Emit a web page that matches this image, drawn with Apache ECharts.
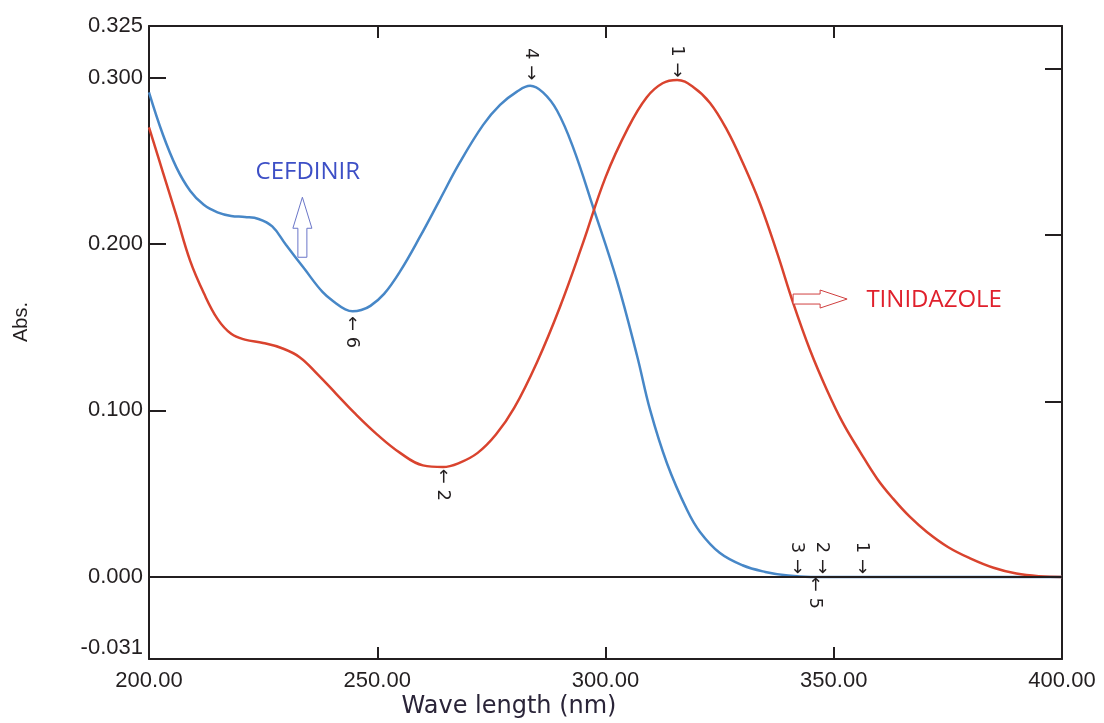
<!DOCTYPE html>
<html>
<head>
<meta charset="utf-8">
<script src="https://cdn.jsdelivr.net/npm/echarts@6/dist/echarts.min.js"></script>
<style>
  html, body { margin: 0; padding: 0; background: #fff; }
  #chart { width: 1104px; height: 723px; }
</style>
</head>
<body>
<div id="chart"></div>
<script>
// spectra: wavelength (nm) and absorbance
const cefdinirWave = [200, 203, 206, 209, 212, 215, 218, 221, 224, 227, 230, 234, 238, 241, 243, 244.6, 246.5, 248.5, 251.5, 255, 259.4, 263.7, 268, 273.2, 276.9, 280.6, 283.5, 286.3, 289.4, 292.9, 297.3, 302.5, 306.9, 309.8, 313.5, 317.9, 320.7, 325, 330, 335, 340, 345, 350, 360, 380, 400];
const cefdinirAbs = [0.291, 0.266, 0.246, 0.232, 0.2235, 0.219, 0.2168, 0.2162, 0.2150, 0.2105, 0.1995, 0.1852, 0.1712, 0.1642, 0.1607, 0.1595, 0.1603, 0.1628, 0.170, 0.1835, 0.2045, 0.2265, 0.2485, 0.2715, 0.2835, 0.2915, 0.295, 0.291, 0.280, 0.258, 0.222, 0.178, 0.133, 0.100, 0.068, 0.040, 0.027, 0.0145, 0.007, 0.003, 0.0008, 0, 0, 0, 0, 0];

const tinidazoleWave = [200, 203, 206, 209, 212, 215, 218, 221, 225, 229, 233, 237, 241, 245, 250, 255, 260, 264.4, 268, 272, 276, 280, 285, 290, 295, 300, 305, 309, 312.5, 315.7, 319.2, 322.9, 326.6, 330.1, 333.8, 337.6, 341.1, 344.8, 348.5, 352, 355.8, 359.5, 363, 366.7, 370.4, 375, 380, 385, 390, 395, 400];
const tinidazoleAbs = [0.270, 0.2435, 0.217, 0.190, 0.1705, 0.155, 0.146, 0.1425, 0.1405, 0.1375, 0.132, 0.1215, 0.110, 0.0985, 0.0855, 0.0745, 0.067, 0.066, 0.0685, 0.0745, 0.0855, 0.1015, 0.129, 0.162, 0.200, 0.240, 0.270, 0.288, 0.2965, 0.2985, 0.2943, 0.2847, 0.2685, 0.2486, 0.2246, 0.1946, 0.1646, 0.1363, 0.1123, 0.0925, 0.075, 0.059, 0.047, 0.036, 0.027, 0.018, 0.011, 0.0055, 0.002, 0.0004, 0];

// y axis: the end labels sit at the frame, not at their own values
const yMin = -0.0493;
const yMax = 0.3309;
const yTickValues = [0.1, 0.2, 0.3];
const yLabelValues = [-0.0429, 0, 0.1, 0.2, 0.3, yMax];
const yLabelText = ['-0.031', '0.000', '0.100', '0.200', '0.300', '0.325'];
const rightShift = 0.0054; // right-hand ticks sit a little higher

// peak / valley markers: wavelength, abs (centre of the mark), text
const markWave = [283.5, 315.7, 244.5, 264.4, 341.9, 347.4, 356.2, 345.9];
const markAbs = [0.308, 0.3096, 0.147, 0.0553, 0.0114, 0.0114, 0.0114, -0.0096];
const markText = ['4 \u2192', '1 \u2192', '\u2190 6', '\u2190 2', '3 \u2192', '2 \u2192', '1 \u2192', '\u2190 5'];

const blue = '#4787c7';
const red = '#d9432e';
const ink = '#231f20';
const font = 'Liberation Sans, Arial, sans-serif';

const chart = echarts.init(document.getElementById('chart'));

const xBase = {
  type: 'value',
  min: 200,
  max: 400,
  interval: 50,
  axisLine: { onZero: false, lineStyle: { color: ink, width: 2 } },
  axisTick: { inside: true, length: 12, lineStyle: { color: ink, width: 2 } },
  splitLine: { show: false }
};

const option = {
  animation: false,
  backgroundColor: '#fff',
  grid: { left: 149, right: 42, top: 26, bottom: 64 },
  xAxis: [
    Object.assign({}, xBase, {
      position: 'bottom',
      axisLabel: {
        margin: 11, fontFamily: font, fontSize: 22, color: ink,
        showMinLabel: true, showMaxLabel: true,
        formatter: (v) => v.toFixed(2)
      }
    }),
    Object.assign({}, xBase, {
      position: 'top',
      axisLabel: { show: false }
    })
  ],
  yAxis: [
    {
      type: 'value',
      min: yMin,
      max: yMax,
      position: 'left',
      axisLine: { show: true, onZero: false, lineStyle: { color: ink, width: 2 } },
      axisTick: {
        show: true, inside: true, length: 17,
        customValues: yTickValues,
        lineStyle: { color: ink, width: 2 }
      },
      axisLabel: {
        margin: 6, fontFamily: font, fontSize: 22, color: ink,
        customValues: yLabelValues,
        formatter: (v) => {
          const i = yLabelValues.findIndex((t) => Math.abs(t - v) < 1e-6);
          return i >= 0 ? yLabelText[i] : '';
        }
      },
      splitLine: { show: false }
    },
    {
      type: 'value',
      min: yMin - rightShift,
      max: yMax - rightShift,
      position: 'right',
      axisLine: { show: true, onZero: false, lineStyle: { color: ink, width: 2 } },
      axisTick: {
        show: true, inside: true, length: 17,
        customValues: yTickValues,
        lineStyle: { color: ink, width: 2 }
      },
      axisLabel: { show: false },
      splitLine: { show: false }
    }
  ],
  series: [
    {
      name: 'CEFDINIR',
      type: 'line',
      smooth: 0.4,
      showSymbol: false,
      data: cefdinirWave.map((w, i) => [w, cefdinirAbs[i]]),
      lineStyle: { color: blue, width: 2.5 },
      itemStyle: { color: blue },
      z: 3
    },
    {
      name: 'TINIDAZOLE',
      type: 'line',
      smooth: 0.4,
      showSymbol: false,
      data: tinidazoleWave.map((w, i) => [w, tinidazoleAbs[i]]),
      lineStyle: { color: red, width: 2.5 },
      itemStyle: { color: red },
      z: 3,
      markLine: {
        silent: true,
        symbol: 'none',
        label: { show: false },
        lineStyle: { color: ink, width: 2, type: 'solid' },
        data: [{ yAxis: 0 }],
        z: 4
      }
    }
  ]
};

chart.setOption(option);

// annotations, placed from data coordinates
function px(w, a) {
  return chart.convertToPixel({ xAxisIndex: 0, yAxisIndex: 0 }, [w, a]);
}

const graphics = [];

markText.forEach((t, i) => {
  const p = px(markWave[i], markAbs[i]);
  graphics.push({
    type: 'text',
    x: p[0],
    y: p[1],
    rotation: -Math.PI / 2,
    z: 10,
    style: {
      text: t, fill: ink, font: '18px DejaVu Sans, sans-serif',
      align: 'center', verticalAlign: 'middle'
    }
  });
});

const cefLabel = px(234.8, 0.243);
graphics.push({
  type: 'text', x: cefLabel[0], y: cefLabel[1], z: 10,
  style: {
    text: 'CEFDINIR', fill: '#3d4fc6', font: '24px Open Sans, sans-serif',
    align: 'center', verticalAlign: 'middle'
  }
});

const tinLabel = px(372, 0.166);
graphics.push({
  type: 'text', x: tinLabel[0], y: tinLabel[1], z: 10,
  style: {
    text: 'TINIDAZOLE', fill: '#e0202c', font: '24px Open Sans, sans-serif',
    align: 'center', verticalAlign: 'middle'
  }
});

// hollow up arrow under CEFDINIR
const upBase = px(233.6, 0.192);
graphics.push({
  type: 'polygon', x: upBase[0], y: upBase[1], z: 10,
  shape: { points: [[-4.5, 0], [4.5, 0], [4.5, -29], [9.5, -29], [0, -60], [-9.5, -29], [-4.5, -29]] },
  style: { fill: '#fff', stroke: '#6a76c8', lineWidth: 1 }
});

// hollow right arrow before TINIDAZOLE
const rightBase = px(341.1, 0.1669);
graphics.push({
  type: 'polygon', x: rightBase[0], y: rightBase[1], z: 10,
  shape: { points: [[0, -5], [27, -5], [27, -9], [54, 0], [27, 9], [27, 5], [0, 5]] },
  style: { fill: '#fff', stroke: '#d04040', lineWidth: 1 }
});

// axis titles
graphics.push({
  type: 'text', x: 21, y: 322, rotation: Math.PI / 2, z: 10,
  style: {
    text: 'Abs.', fill: ink, font: '20px ' + font,
    align: 'center', verticalAlign: 'middle'
  }
});
graphics.push({
  type: 'text', x: 509, y: 707, z: 10,
  style: {
    text: 'Wave length (nm)', fill: '#2a2438', font: '24px DejaVu Sans, sans-serif',
    align: 'center', verticalAlign: 'middle'
  }
});

chart.setOption({ graphic: graphics });
</script>
</body>
</html>
